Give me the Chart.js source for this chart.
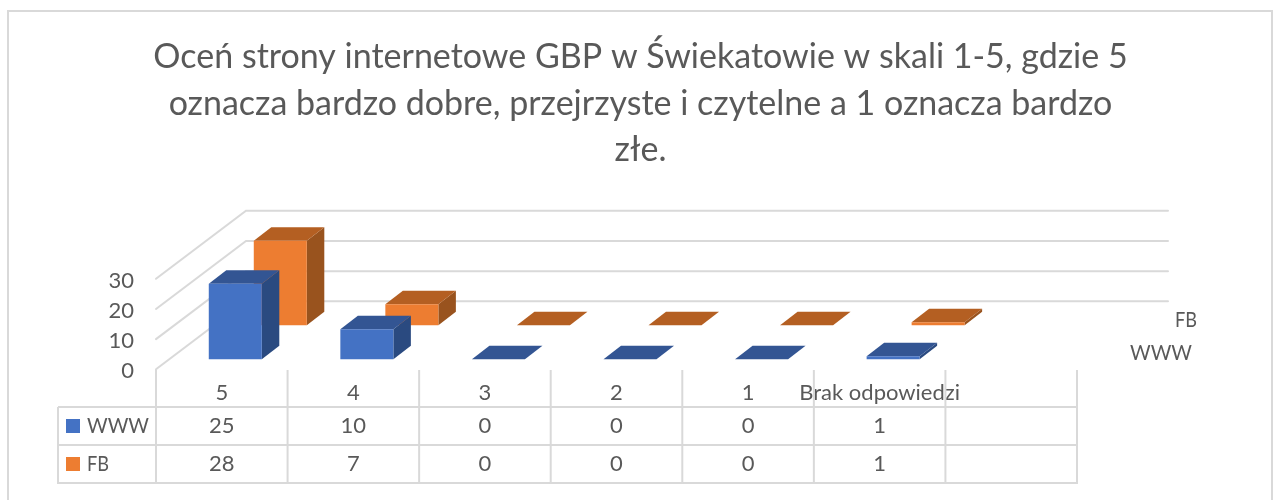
<!DOCTYPE html>
<html lang="pl"><head><meta charset="utf-8">
<style>html,body{margin:0;padding:0;background:#fff}canvas{display:block}</style>
<script src="https://cdn.jsdelivr.net/npm/chart.js@4"></script>
</head><body><canvas id="c" width="1278" height="500"></canvas>
<script>
const titleLines = ['Oceń strony internetowe GBP w Świekatowie w skali 1-5, gdzie 5','oznacza bardzo dobre, przejrzyste i czytelne a 1 oznacza bardzo','złe.'];
const categories = ['5','4','3','2','1','Brak odpowiedzi',''];
const wwwValues = [25,10,0,0,0,1,null];
const fbValues = [28,7,0,0,0,1,null];
const seriesNames = ['WWW','FB'];
const frontColors = ['#4472C4','#ED7D31'];
const sideColors = ['#2A4A80','#99531E'];
const topColors = ['#335593','#B45F22'];
const FONT = 'Lato';
const TEXT = '#595959', GRID = '#D9D9D9';
const seriesShift = [{x:0,y:0},{x:45,y:-34}];
const barDepth = {x:17.5,y:-13.5};
const labelWidths = [62,22];

function line(ctx,x1,y1,x2,y2){ctx.beginPath();ctx.moveTo(x1,y1);ctx.lineTo(x2,y2);ctx.stroke();}
function poly(ctx,pts,fill){ctx.fillStyle=fill;ctx.beginPath();pts.forEach((p,i)=>i?ctx.lineTo(p[0],p[1]):ctx.moveTo(p[0],p[1]));ctx.closePath();ctx.fill();}

const scene = {
  id:'scene',
  afterLayout(chart){const t=chart.titleBlock;t.left=0;t.right=1281;t.width=1281;},
  beforeDraw(chart){
    const ctx=chart.ctx;ctx.save();ctx.fillStyle='#fff';ctx.fillRect(0,0,chart.width,chart.height);
    ctx.strokeStyle=GRID;ctx.lineWidth=2;
    ctx.beginPath();ctx.moveTo(8,500);ctx.lineTo(8,11);ctx.lineTo(1272,11);ctx.lineTo(1272,500);ctx.stroke();
    ctx.restore();
  },
  beforeDatasetsDraw(chart){
    const ctx=chart.ctx,y=chart.scales.y;ctx.save();
    ctx.strokeStyle=GRID;ctx.lineWidth=2;ctx.lineCap='round';
    y.ticks.forEach(t=>{const p=y.getPixelForValue(t.value);
      ctx.beginPath();ctx.moveTo(156,p+10);ctx.lineTo(246,p-58);ctx.lineTo(1168,p-58);ctx.stroke();});
    ctx.restore();
    const x=chart.scales.x,step=x.getPixelForValue(1)-x.getPixelForValue(0);
    const left=156,rows=[407,445,483];
    ctx.save();ctx.strokeStyle=GRID;ctx.lineWidth=2;
    const right=left+step*categories.length;
    rows.forEach(r=>line(ctx,58,r,right,r));
    line(ctx,58,407,58,484);
    for(let i=0;i<=categories.length;i++){const v=left+step*i;line(ctx,v,370,v,484);}
    ctx.font='22px '+FONT;ctx.fillStyle=TEXT;ctx.textBaseline='middle';
    chart.data.datasets.forEach((d,s)=>{
      const cy=426+s*38;
      ctx.fillStyle=frontColors[s];ctx.fillRect(66,cy-7,14,14);
      ctx.fillStyle=TEXT;ctx.textAlign='left';ctx.fillText(d.label,87,cy,labelWidths[s]);
      ctx.textAlign='center';
      d.data.forEach((v,i)=>{if(v!==null)ctx.fillText(String(v),left+step*(i+.5),cy);});
    });
    ctx.textAlign='right';
    ctx.fillText(seriesNames[1],1197,320,labelWidths[1]);ctx.fillText(seriesNames[0],1192,353,labelWidths[0]);
    ctx.restore();
  },
  beforeDatasetDraw(chart,args){
    const ctx=chart.ctx,s=args.index,sh=seriesShift[s];
    ctx.save();ctx.translate(sh.x,sh.y);
    args.meta.data.forEach((el,i)=>{
      if(chart.data.datasets[s].data[i]===null)return;
      const {x,y,base,width}=el.getProps(['x','y','base','width'],true);
      const l=x-width/2,r=x+width/2,dx=barDepth.x,dy=barDepth.y;
      poly(ctx,[[r,y],[r+dx,y+dy],[r+dx,base+dy],[r,base]],sideColors[s]);
      poly(ctx,[[l,y],[l+dx,y+dy],[r+dx,y+dy],[r,y]],topColors[s]);
    });
  },
  afterDatasetDraw(chart){chart.ctx.restore();}
};

new Chart(document.getElementById('c'),{
  type:'bar',
  data:{labels:categories,datasets:[
    {label:seriesNames[0],data:wwwValues,backgroundColor:frontColors[0]},
    {label:seriesNames[1],data:fbValues,backgroundColor:frontColors[1]}
  ]},
  options:{
    responsive:false,animation:false,
    layout:{padding:{left:0,right:187.5,top:0,bottom:0}},
    datasets:{bar:{grouped:false,barPercentage:0.403,categoryPercentage:1,borderWidth:0,clip:false}},
    plugins:{
      legend:{display:false},tooltip:{enabled:false},
      title:{display:true,text:titleLines,color:TEXT,font:{family:FONT,size:34,weight:'normal',lineHeight:1.368},padding:{top:34,bottom:95.25}}
    },
    scales:{
      x:{grid:{display:false},border:{display:false},
        ticks:{color:TEXT,font:{family:FONT,size:22},labelOffset:-13.5,padding:12.5,autoSkip:false,maxRotation:0,minRotation:0},
        afterFit(a){a.height=140.7;}},
      y:{min:0,max:30,grid:{display:false},border:{display:false},
        ticks:{stepSize:10,color:TEXT,font:{family:FONT,size:22},labelOffset:12,padding:27.5},
        afterFit(a){a.width=169.5;}}
    }
  },
  plugins:[scene]
});
</script></body></html>
